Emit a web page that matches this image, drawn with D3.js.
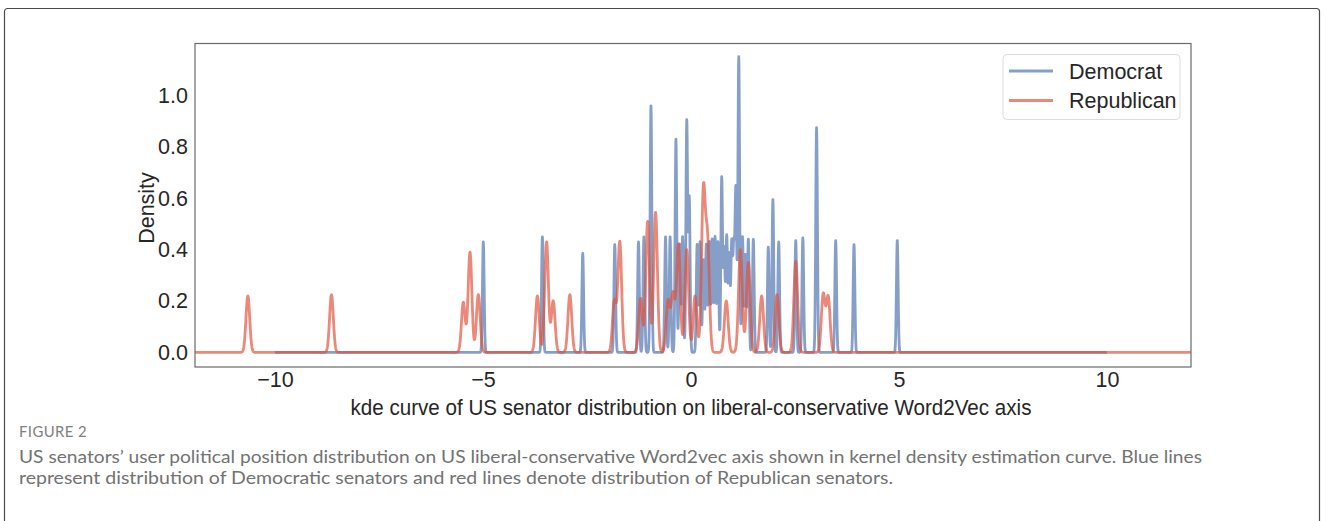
<!DOCTYPE html>
<html>
<head>
<meta charset="utf-8">
<script src="https://cdn.jsdelivr.net/npm/d3@7"></script>
<style>
  html, body { margin: 0; padding: 0; background: #fff; }
  svg { display: block; }
</style>
</head>
<body>
<svg id="chart" width="1326" height="521"></svg>
<script>
// ---------------- DATA ----------------
const seriesNames = ["Democrat", "Republican"];
// Democrat KDE: peak positions (axis units) and peak densities
const demPeakX = [-4.99, -3.57, -2.60, -1.83, -1.26, -1.13, -0.96, -0.61, -0.50, -0.36,
                  -0.27, -0.20, -0.10, -0.04, 0.15, 0.22, 0.30, 0.37, 0.44, 0.51, 0.58,
                  0.65, 0.74, 0.80, 0.86, 0.92, 0.98, 1.03, 1.08, 1.15, 1.24, 1.31,
                  1.38, 1.50, 1.86, 1.97, 2.11, 2.52, 2.69, 3.02, 3.48, 3.92, 4.96];
const demPeakY = [0.43, 0.45, 0.385, 0.42, 0.43, 0.45, 0.96, 0.45, 0.45, 0.83,
                  0.42, 0.45, 0.90, 0.60, 0.42, 0.43, 0.36, 0.42, 0.43, 0.44, 0.45,
                  0.43, 0.68, 0.40, 0.45, 0.38, 0.42, 0.40, 0.63, 1.15, 0.45, 0.38,
                  0.44, 0.44, 0.41, 0.595, 0.43, 0.435, 0.446, 0.875, 0.435, 0.42, 0.435];
// Republican KDE: peak positions and peak densities
const repPeakX = [-10.65, -8.64, -5.47, -5.31, -5.11, -3.69, -3.47, -3.31, -2.91, -1.84,
                  -1.71, -1.21, -1.04, -0.85, -0.55, -0.43, -0.30, -0.10, 0.10, 0.30,
                  0.40, 0.85, 1.19, 1.38, 1.70, 2.07, 2.52, 3.18, 3.30];
const repPeakY = [0.22, 0.225, 0.195, 0.39, 0.225, 0.22, 0.43, 0.20, 0.225, 0.20,
                  0.43, 0.21, 0.51, 0.545, 0.20, 0.225, 0.42, 0.40, 0.22, 0.62,
                  0.42, 0.20, 0.40, 0.35, 0.22, 0.225, 0.355, 0.225, 0.215];
// kernel widths (axis units) and support of each estimate
const demBandwidth = 0.02, repBandwidth = 0.045;
const demSupport = [-10, 10], repSupport = [-11.92, 12.02];
const xTicks = [-10, -5, 0, 5, 10];
const yTicks = [0.0, 0.2, 0.4, 0.6, 0.8, 1.0];
const xDomain = [-11.92, 12.02], yDomain = [-0.057, 1.203];
const xLabel = "kde curve of US senator distribution on liberal-conservative Word2Vec axis";
const yLabel = "Density";
const figLabel = "FIGURE 2";
const captionLines = [
  "US senators\u2019 user political position distribution on US liberal-conservative Word2vec axis shown in kernel density estimation curve. Blue lines",
  "represent distribution of Democratic senators and red lines denote distribution of Republican senators."
];

// ---------------- LAYOUT / STYLE ----------------
const plot = { left: 195, right: 1191, top: 43.5, bottom: 367 };
const blue = "#4c72b0", red = "#e0503a";
const lineOpacity = 0.68;
const fontMain = "Arial, 'Liberation Sans', Helvetica, sans-serif";
const textColor = "#262626";

const svg = d3.select("#chart");
svg.append("rect").attr("width", 1326).attr("height", 521).attr("fill", "#fff");
// outer figure frame
svg.append("rect").attr("x", 4.5).attr("y", 8.5).attr("width", 1315).attr("height", 560)
  .attr("rx", 3).attr("fill", "none").attr("stroke", "#4a4a4a").attr("stroke-width", 1.2);

const x = d3.scaleLinear().domain(xDomain).range([plot.left, plot.right]);
const y = d3.scaleLinear().domain(yDomain).range([plot.bottom, plot.top]);

function kdeCurve(px, py, bw, support) {
  const step = 0.005;
  const pts = [];
  for (let t = support[0]; t <= support[1] + 1e-9; t += step) {
    let v = 0;
    for (let i = 0; i < px.length; i++) {
      const z = (t - px[i]) / bw;
      if (Math.abs(z) < 8) v += py[i] * Math.exp(-0.5 * z * z);
    }
    pts.push([t, v]);
  }
  return pts;
}

const clipId = "plotclip";
svg.append("clipPath").attr("id", clipId).append("rect")
  .attr("x", plot.left).attr("y", plot.top)
  .attr("width", plot.right - plot.left).attr("height", plot.bottom - plot.top);

const line = d3.line().x(d => x(d[0])).y(d => y(d[1]));
const g = svg.append("g").attr("clip-path", `url(#${clipId})`);
g.append("path").datum(kdeCurve(demPeakX, demPeakY, demBandwidth, demSupport))
  .attr("d", line).attr("fill", "none").attr("stroke", blue)
  .attr("stroke-opacity", lineOpacity).attr("stroke-width", 2.8)
  .attr("stroke-linejoin", "round");
g.append("path").datum(kdeCurve(repPeakX, repPeakY, repBandwidth, repSupport))
  .attr("d", line).attr("fill", "none").attr("stroke", red)
  .attr("stroke-opacity", lineOpacity).attr("stroke-width", 2.8)
  .attr("stroke-linejoin", "round");

// axes frame
svg.append("rect").attr("x", plot.left).attr("y", plot.top)
  .attr("width", plot.right - plot.left).attr("height", plot.bottom - plot.top)
  .attr("fill", "none").attr("stroke", "#6a6a6a").attr("stroke-width", 1.2);

// x axis (no tick marks, labels only)
const xAxis = d3.axisBottom(x).tickValues(xTicks).tickSize(0).tickPadding(6)
  .tickFormat(d3.format("d"));
const xg = svg.append("g").attr("transform", `translate(0,${plot.bottom})`).call(xAxis);
xg.select(".domain").remove();
xg.selectAll("text").attr("font-family", fontMain).attr("font-size", 21.5)
  .attr("fill", textColor).attr("dy", "0.71em").attr("y", 5);

const yAxis = d3.axisLeft(y).tickValues(yTicks).tickSize(0).tickPadding(7)
  .tickFormat(d3.format(".1f"));
const yg = svg.append("g").attr("transform", `translate(${plot.left},0)`).call(yAxis);
yg.select(".domain").remove();
yg.selectAll("text").attr("font-family", fontMain).attr("font-size", 21.5)
  .attr("fill", textColor);

// axis titles
svg.append("text").attr("x", 691).attr("y", 415).attr("text-anchor", "middle")
  .attr("font-family", fontMain).attr("font-size", 22.5).attr("fill", textColor)
  .attr("textLength", 681).attr("lengthAdjust", "spacingAndGlyphs")
  .text(xLabel);
svg.append("text").attr("transform", "translate(154,208) rotate(-90)")
  .attr("text-anchor", "middle").attr("font-family", fontMain).attr("font-size", 21.5)
  .attr("fill", textColor).text(yLabel);

// legend
const lg = svg.append("g");
lg.append("rect").attr("x", 1003).attr("y", 54.5).attr("width", 177).attr("height", 65)
  .attr("rx", 4).attr("fill", "#fff").attr("fill-opacity", 0.8)
  .attr("stroke", "#dcdcdc").attr("stroke-width", 1);
const legColors = [blue, red];
seriesNames.forEach((name, i) => {
  const yy = 71 + i * 29.5;
  lg.append("line").attr("x1", 1009).attr("x2", 1053).attr("y1", yy).attr("y2", yy)
    .attr("stroke", legColors[i]).attr("stroke-opacity", lineOpacity).attr("stroke-width", 2.8);
  lg.append("text").attr("x", 1069).attr("y", yy).attr("dy", "0.35em")
    .attr("font-family", fontMain).attr("font-size", 21.5).attr("fill", textColor).text(name);
});

// caption
const capFont = "Lato, 'Open Sans', 'Noto Sans', sans-serif";
svg.append("text").attr("x", 19).attr("y", 436.5).attr("font-family", capFont)
  .attr("font-size", 14.5).attr("fill", "#808080").attr("letter-spacing", 0.4)
  .attr("textLength", 68).attr("lengthAdjust", "spacingAndGlyphs")
  .text(figLabel);
const capW = [1183, 874];
captionLines.forEach((t, i) => {
  svg.append("text").attr("x", 19).attr("y", 463 + i * 21).attr("font-family", capFont)
    .attr("font-size", 16.5).attr("fill", "#727272")
    .attr("textLength", capW[i]).attr("lengthAdjust", "spacingAndGlyphs").text(t);
});
</script>
</body>
</html>
